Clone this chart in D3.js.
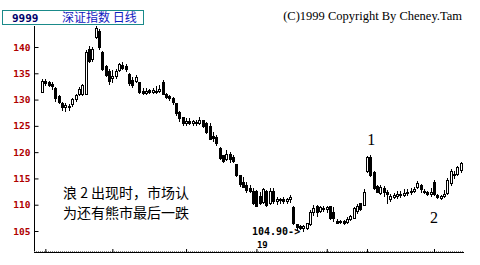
<!DOCTYPE html>
<html>
<head>
<meta charset="utf-8">
<script src="https://cdn.jsdelivr.net/npm/d3@7"></script>
<style>
  body { margin: 0; background: #fff; }
</style>
</head>
<body>
<div id="chart"></div>
<script>
// daily candles, 深证指数
const open = [
  131.4, 133.5, 133.2, 132.9, 132.2, 130.6, 129.3, 128.4, 128.7, 129.0,
  130.0, 130.9, 131.0, 131.0, 139.6, 137.6, 141.9, 143.0, 139.0, 136.3,
  135.4, 134.0, 134.3, 135.5, 136.5, 136.2, 134.7, 133.6, 133.5, 133.2,
  131.6, 131.2, 131.7, 131.3, 131.6, 131.5, 133.2, 131.0, 130.6, 130.2,
  129.2, 127.6, 126.6, 125.5, 125.8, 125.4, 125.7, 125.5, 126.0, 125.5,
  124.8, 123.0, 122.8, 120.7, 119.4, 118.6, 119.6, 119.0, 117.6, 115.5,
  114.2, 113.6, 113.0, 112.6, 112.5, 111.6, 110.4, 112.6, 110.2, 112.5,
  110.6, 110.8, 111.0, 110.6, 111.0, 109.5, 106.3, 105.8, 105.5, 105.4,
  106.2, 108.5, 109.6, 108.8, 109.3, 109.0, 109.7, 108.5, 106.9, 106.6,
  106.8, 106.6, 107.1, 107.3, 108.7, 110.2, 109.8, 116.3, 119.0, 116.2,
  113.5, 112.2, 113.0, 112.3, 111.0, 111.4, 111.6, 112.0, 111.7, 112.2,
  112.3, 112.6, 113.2, 113.6, 112.6, 112.3, 112.0, 114.2, 111.8, 111.1,
  111.5, 112.2, 114.0, 115.5, 115.8, 116.5
];
const close = [
  133.5, 133.0, 132.6, 132.4, 130.2, 129.5, 128.4, 128.9, 128.5, 130.0,
  130.7, 132.0, 132.6, 139.0, 137.3, 139.5, 143.5, 140.0, 135.8, 134.5,
  133.4, 134.4, 135.3, 136.6, 136.0, 135.8, 133.0, 132.7, 134.2, 131.3,
  131.2, 131.6, 131.3, 131.8, 131.4, 132.0, 131.0, 130.4, 130.2, 129.5,
  127.3, 126.4, 125.4, 125.9, 125.5, 125.8, 125.4, 126.0, 124.8, 123.7,
  122.5, 122.6, 121.6, 118.8, 118.3, 119.6, 118.6, 118.2, 115.5, 113.8,
  113.3, 112.7, 112.6, 110.3, 109.7, 110.3, 112.8, 109.8, 112.6, 110.6,
  110.9, 111.0, 110.6, 111.0, 111.3, 106.4, 105.6, 105.4, 105.8, 106.4,
  108.6, 109.3, 108.6, 109.4, 109.0, 109.5, 107.4, 107.4, 106.5, 106.8,
  106.5, 107.2, 107.8, 109.2, 109.6, 109.1, 112.4, 119.0, 115.5, 113.0,
  112.4, 113.3, 112.3, 112.0, 111.5, 111.7, 112.0, 111.7, 112.2, 112.4,
  112.6, 112.9, 114.0, 112.8, 112.4, 111.9, 112.3, 111.9, 111.3, 111.5,
  112.0, 114.7, 116.4, 115.8, 117.0, 117.9
];
const high = [
  134.0, 134.0, 133.6, 133.3, 132.4, 130.8, 129.6, 129.4, 129.2, 130.3,
  131.1, 132.4, 133.0, 139.5, 140.2, 140.0, 144.0, 143.4, 139.2, 136.6,
  135.8, 135.6, 135.8, 137.0, 137.2, 136.8, 135.0, 134.2, 134.7, 133.4,
  132.2, 132.2, 132.1, 132.2, 132.6, 132.7, 133.7, 131.3, 130.9, 130.4,
  129.4, 127.8, 126.7, 126.5, 126.4, 126.2, 126.1, 126.6, 126.2, 125.8,
  125.6, 123.8, 123.2, 121.0, 119.5, 120.4, 120.1, 119.5, 117.8, 115.7,
  115.3, 114.3, 113.8, 113.2, 112.8, 112.4, 113.2, 112.8, 113.2, 113.2,
  111.4, 111.3, 111.5, 111.3, 111.9, 109.8, 106.4, 106.2, 106.2, 106.6,
  109.0, 110.0, 109.9, 109.8, 109.8, 109.8, 109.8, 109.5, 107.2, 107.1,
  107.1, 107.6, 108.1, 109.6, 110.1, 110.4, 112.9, 119.3, 119.5, 116.5,
  113.8, 113.8, 113.6, 112.8, 112.0, 112.3, 112.6, 112.7, 112.9, 112.9,
  113.2, 113.3, 114.5, 114.0, 112.9, 112.7, 113.1, 114.7, 112.1, 111.9,
  112.8, 115.0, 116.8, 116.4, 117.3, 118.2
];
const low = [
  131.2, 132.6, 132.3, 131.8, 129.6, 129.2, 127.8, 127.6, 127.9, 128.6,
  129.6, 130.6, 130.7, 130.8, 137.0, 137.2, 141.5, 139.5, 135.5, 134.2,
  132.8, 133.2, 134.0, 135.3, 135.6, 135.3, 132.6, 132.2, 133.2, 131.0,
  130.8, 130.9, 131.0, 131.0, 131.0, 131.3, 130.8, 130.2, 129.8, 128.9,
  126.8, 125.8, 125.0, 125.0, 125.1, 125.0, 125.0, 125.1, 124.6, 123.5,
  122.3, 122.0, 121.2, 118.5, 117.9, 118.3, 117.9, 117.9, 115.2, 113.4,
  113.2, 112.3, 112.2, 110.0, 109.6, 110.0, 110.2, 109.5, 110.0, 110.2,
  110.0, 110.1, 110.2, 110.2, 110.4, 106.2, 105.0, 105.1, 104.9, 105.2,
  106.0, 107.9, 107.6, 108.4, 108.6, 108.4, 107.0, 106.8, 106.3, 106.3,
  106.2, 106.3, 106.9, 107.2, 108.3, 108.8, 109.7, 116.0, 115.2, 112.8,
  112.2, 111.8, 111.5, 110.2, 110.6, 111.0, 111.1, 111.2, 111.5, 111.7,
  111.8, 112.2, 113.0, 112.3, 112.0, 111.6, 111.4, 111.7, 111.1, 110.9,
  111.3, 111.9, 113.6, 114.8, 115.4, 116.1
];

const yTicks = [105, 110, 115, 120, 125, 130, 135, 140];
const xTickIdx = [1, 21, 43, 64, 85, 97, 117];
const xTickLabels = { 64: "19" };

const lowIdx = 78;
const lowText = "104.90->";
const wave1Idx = 98, wave2Idx = 117;

const data = open.map((o, i) => ({ i: i, o: o, c: close[i], h: high[i], l: low[i] }));

const width = 480, height = 265;

const svg = d3.select("#chart").append("svg")
  .attr("width", width)
  .attr("height", height)
  .style("display", "block")
  .style("background", "#fff");

const x = d3.scaleLinear().domain([0, data.length - 1]).range([42, 460.8]);
const y = d3.scaleLinear().domain([105, 140]).range([231, 47]);

// title box
svg.append("rect")
  .attr("x", 2.5).attr("y", 10.5)
  .attr("width", 141).attr("height", 14)
  .attr("fill", "#fff").attr("stroke", "#1a8a8a");
svg.append("text")
  .attr("x", 12).attr("y", 21.5)
  .style("font", "bold 11px 'DejaVu Sans Mono', monospace")
  .style("fill", "#00006a")
  .text("9999");
svg.append("text")
  .attr("x", 62).attr("y", 22)
  .style("font", "12px 'Noto Sans CJK SC', sans-serif")
  .style("fill", "#1020c0")
  .text("深证指数 日线");

svg.append("text")
  .attr("x", 462).attr("y", 20)
  .attr("text-anchor", "end")
  .style("font", "12.5px 'Liberation Serif', serif")
  .style("fill", "#000")
  .text("(C)1999 Copyright By Cheney.Tam");

// axes lines
svg.append("line")
  .attr("x1", 34.5).attr("x2", 34.5).attr("y1", 26).attr("y2", 252)
  .attr("stroke", "#000");
svg.append("line")
  .attr("x1", 34).attr("x2", 464).attr("y1", 252.5).attr("y2", 252.5)
  .attr("stroke", "#000");
svg.append("line")
  .attr("x1", 34).attr("x2", 464).attr("y1", 251.5).attr("y2", 251.5)
  .attr("stroke", "#888").attr("stroke-dasharray", "1,1");

const yAxis = svg.append("g")
  .attr("transform", "translate(34.5,0)")
  .call(d3.axisLeft(y).tickValues(yTicks).tickSize(-4).tickPadding(4));
yAxis.select(".domain").remove();
yAxis.selectAll("text")
  .style("font", "bold 9.5px 'DejaVu Sans Mono', monospace")
  .style("fill", "#b00000");

const xAxis = svg.append("g")
  .attr("transform", "translate(0,252)")
  .call(d3.axisTop(x).tickValues(xTickIdx).tickSize(3).tickPadding(1)
    .tickFormat(d => xTickLabels[d] || ""));
xAxis.select(".domain").remove();
xAxis.selectAll("text")
  .attr("text-anchor", "start")
  .attr("dx", 0)
  .style("font", "bold 9px 'DejaVu Sans Mono', monospace")
  .style("fill", "#000");

// candles
const candles = svg.append("g").attr("shape-rendering", "crispEdges");
candles.selectAll("line.wick")
  .data(data)
  .join("line")
  .attr("class", "wick")
  .attr("x1", d => Math.round(x(d.i)) + 0.5)
  .attr("x2", d => Math.round(x(d.i)) + 0.5)
  .attr("y1", d => y(d.h))
  .attr("y2", d => y(d.l))
  .attr("stroke", "#000");

candles.selectAll("rect.body")
  .data(data)
  .join("rect")
  .attr("class", "body")
  .attr("x", d => Math.round(x(d.i)) - 0.5)
  .attr("y", d => y(Math.max(d.o, d.c)))
  .attr("width", 2)
  .attr("height", d => Math.max(1, Math.abs(y(d.o) - y(d.c))))
  .attr("fill", d => d.c > d.o ? "#fff" : "#000")
  .attr("stroke", "#000");

// annotations
svg.append("text")
  .attr("x", 252).attr("y", y(low[lowIdx]) + 3)
  .style("font", "bold 10px 'DejaVu Sans Mono', monospace")
  .style("fill", "#000")
  .text(lowText);

svg.append("text")
  .attr("x", x(wave1Idx) + 1).attr("y", 145)
  .attr("text-anchor", "middle")
  .style("font", "16px 'Liberation Serif', serif")
  .text("1");
svg.append("text")
  .attr("x", x(wave2Idx)).attr("y", 223)
  .attr("text-anchor", "middle")
  .style("font", "16px 'Liberation Serif', serif")
  .text("2");

const note = svg.append("text")
  .style("font", "14px 'Noto Sans CJK SC', sans-serif")
  .style("fill", "#000");
note.append("tspan").attr("x", 63).attr("y", 198).text("浪 2 出现时，市场认");
note.append("tspan").attr("x", 63).attr("y", 218).text("为还有熊市最后一跌");
</script>
</body>
</html>
